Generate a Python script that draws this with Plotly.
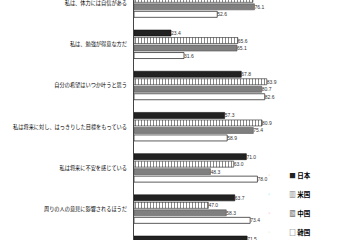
import plotly.graph_objects as go

categories = [
    "私は、体力には自信がある",
    "私は、勉強が得意な方だ",
    "自分の希望はいつか叶うと思う",
    "私は将来に対し、はっきりした目標をもっている",
    "私は将来に不安を感じている",
    "周りの人の意見に影響されるほうだ",
    " ",
]
countries = ["日本", "米国", "中国", "韓国"]
japan = [None, 23.4, 67.8, 57.3, 71.0, 63.7, 71.5]
usa = [75.1, 65.6, 83.9, 80.9, 63.0, 47.0, None]
china = [76.1, 65.1, 80.7, 75.4, 48.3, 58.3, None]
korea = [52.6, 31.6, 82.6, 58.9, 78.0, 73.4, None]
legend_glyphs = [
    "<span style='color:#222'>■</span>",
    "<span style='color:#444'>▥</span>",
    "<span style='color:#888'>▩</span>",
    "<span style='color:#444'>□</span>",
]

series = [japan, usa, china, korea]
styles = [
    dict(color="#222222", line=dict(color="#111111", width=0.6)),
    dict(color="white", line=dict(color="#222222", width=0.6),
         pattern=dict(shape="|", fgcolor="#111111", bgcolor="white", size=3, solidity=0.34)),
    dict(color="#7f7f7f", line=dict(color="#555555", width=0.6)),
    dict(color="white", line=dict(color="#333333", width=0.8)),
]

fig = go.Figure()
for name, vals, st in zip(countries, series, styles):
    fig.add_trace(go.Bar(
        y=categories, x=vals, orientation="h", name=name, marker=st,
        texttemplate="%{x:.1f}", textposition="outside", constraintext="none",
        textfont=dict(size=5, color="#333333", family="Liberation Sans"),
        cliponaxis=False, showlegend=False,
    ))

for name, g in zip(countries, legend_glyphs):
    fig.add_trace(go.Scatter(
        x=[None], y=[categories[0]], mode="markers", name=g + " " + name,
        marker=dict(size=1, opacity=0), showlegend=True,
    ))

fig.update_layout(
    width=360, height=240,
    margin=dict(l=134, r=0, t=0, b=0, autoexpand=False),
    paper_bgcolor="white", plot_bgcolor="white",
    barmode="group", bargap=0.272, bargroupgap=0.2,
    font=dict(family="Noto Sans CJK JP", color="black"),
    xaxis=dict(range=[0, 142.8], showgrid=False, zeroline=False, automargin=False,
               showticklabels=False, ticks="", fixedrange=True),
    yaxis=dict(type="category", range=[5.75, -0.075], showgrid=False, automargin=False,
               showline=True, linecolor="#444444", linewidth=1,
               ticks="", ticklabelstandoff=5,
               tickfont=dict(size=5.2, color="black", family="Noto Sans CJK JP")),
    legend=dict(x=0.51, y=0.33, xanchor="left", yanchor="top",
                font=dict(size=6.5, color="black", family="Noto Sans CJK JP", weight=700),
                bgcolor="rgba(0,0,0,0)", itemwidth=30, tracegroupgap=0),
)

fig.write_html("out.html")
